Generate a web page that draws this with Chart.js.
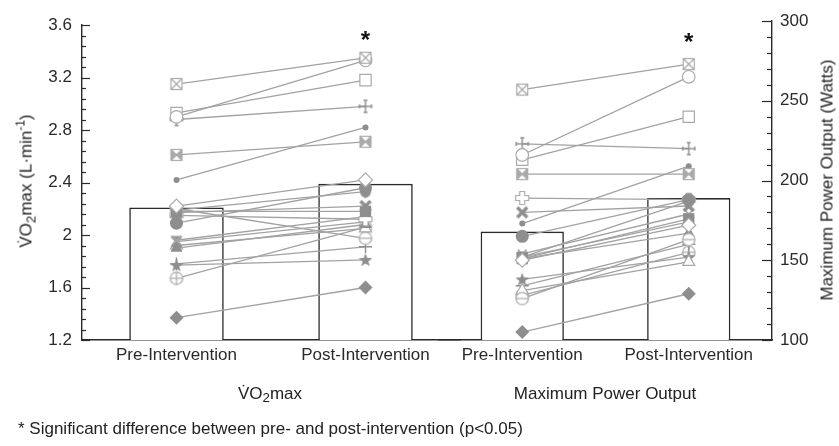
<!DOCTYPE html>
<html>
<head>
<meta charset="utf-8">
<script src="https://cdn.jsdelivr.net/npm/chart.js@4.4.1/dist/chart.umd.min.js"></script>
<style>
  body { margin: 0; background: #fff; }
  #wrap { position: relative; width: 839px; height: 446px; overflow: hidden;
          font-family: "Liberation Sans", Arial, sans-serif; color: #222; }
  canvas { position: absolute; top: 0; }
  #cLeft { left: 0; }
  #cRight { left: 420px; }
  .lbl { position: absolute; font-size: 17px; white-space: nowrap; line-height: 1; }
  .ctr { transform: translate(-50%, -50%); }
  .rot { transform: translate(-50%, -50%) rotate(-90deg); }
  sub { font-size: 0.78em; vertical-align: -0.3em; line-height: 0; }
  sup { font-size: 0.7em; vertical-align: 0.55em; line-height: 0; }
</style>
</head>
<body>
<div id="wrap">
  <canvas id="cLeft" width="470" height="446"></canvas>
  <canvas id="cRight" width="419" height="446"></canvas>
  <div class="lbl rot" style="left:26px; top:181px;">V&#775;O<sub>2</sub>max (L·min<sup>-1</sup>)</div>
  <div class="lbl rot" style="left:827px; top:180px;">Maximum Power Output (Watts)</div>
  <div class="lbl ctr" style="left:270px; top:393px;">V&#775;O<sub>2</sub>max</div>
  <div class="lbl ctr" style="left:605px; top:393px;">Maximum Power Output</div>
  <div class="lbl" style="left:18px; top:428px; transform: translateY(-50%);">* Significant difference between pre- and post-intervention (p&lt;0.05)</div>
</div>
<script>
// categories
var phases = ['Pre-Intervention', 'Post-Intervention'];

// group means (bars)
var vo2Mean   = [2.21, 2.39];
var powerMean = [168, 189];

// individual subjects, same order in every array
var vo2Pre    = [3.15, 2.90, 2.93, 2.88, 2.61, 2.42, 2.22, 2.09, 2.19, 2.17, 2.18,
                 2.20, 2.15, 1.96, 1.95, 1.90, 1.92, 1.77, 1.78, 1.67, 1.37];
var vo2Post   = [3.35, 3.33, 3.18, 2.98, 2.71, 2.82, 2.42, 2.36, 2.33, 2.22, 2.18,
                 1.975, 2.12, 2.14, 2.10, 2.08, 2.05, 1.81, 1.91, 2.06, 1.60];
var powerPre  = [257, 216, 213, 223, 204, 173, 150, 165, 152, 180, 151,
                 126, 189, 154, 152, 151, 131, 138, 134, 128, 105];
var powerPost = [273, 265, 240, 220, 204, 209, 172, 188, 187, 184, 176,
                 163, 188, 179, 174, 167, 149, 152, 160, 155, 129];

// axis ticks
var vo2Ticks   = { min: 1.2, max: 3.6, step: 0.4, minor: 0.08 };
var powerTicks = { min: 100, max: 300, step: 50, minor: 10 };

// styling
var LINE = '#a2a2a2', FILL = '#8e8e8e', OPEN = '#aaaaaa', INK = '#2a2a2a';
var markerKinds = ['crossedBox', 'openCircle', 'openSquare', 'dagger', 'hourglassBox',
  'smallDot', 'openDiamond', 'filledCircle', 'shield', 'filledX', 'filledSquare',
  'circleMinus', 'openPlus', 'crossRot', 'bowtie', 'filledTriangle', 'openTriangle',
  'star', 'thinPlus', 'circlePlus', 'filledDiamond'];

Chart.defaults.font.family = '"Liberation Sans", Arial, sans-serif';
Chart.defaults.font.size = 17;
Chart.defaults.color = INK;

var cache = {};
function markerCanvas(kind) {
  if (cache[kind]) return cache[kind];
  var c = document.createElement('canvas');
  c.width = c.height = 16;
  var g = c.getContext('2d');
  g.lineWidth = 1.2;
  g.strokeStyle = OPEN;
  g.fillStyle = FILL;
  function line(a, b, cc, d) { g.beginPath(); g.moveTo(a, b); g.lineTo(cc, d); g.stroke(); }
  if (kind === 'crossedBox' || kind === 'hourglassBox') {
    g.fillStyle = '#fff'; g.fillRect(2.5, 2.5, 11, 11);
    g.strokeRect(2.5, 2.5, 11, 11);
    if (kind === 'crossedBox') {
      line(2.5, 2.5, 13.5, 13.5); line(13.5, 2.5, 2.5, 13.5);
    } else {
      g.fillStyle = OPEN;
      g.beginPath(); g.moveTo(3, 3); g.lineTo(8, 8); g.lineTo(3, 13); g.closePath(); g.fill();
      g.beginPath(); g.moveTo(13, 3); g.lineTo(8, 8); g.lineTo(13, 13); g.closePath(); g.fill();
      line(2.5, 2.5, 13.5, 13.5); line(13.5, 2.5, 2.5, 13.5);
    }
  } else if (kind === 'dagger') {
    g.strokeStyle = FILL; g.lineWidth = 1.4;
    line(8, 1.5, 8, 14.5); line(1.5, 8, 14.5, 8);
    line(6, 2, 10, 2); line(6, 14, 10, 14); line(2, 6, 2, 10); line(14, 6, 14, 10);
  } else if (kind === 'star') {
    g.beginPath();
    for (var i = 0; i < 10; i++) {
      var r = i % 2 ? 3 : 7.2, a = -Math.PI / 2 + i * Math.PI / 5;
      g.lineTo(8 + r * Math.cos(a), 8.5 + r * Math.sin(a));
    }
    g.closePath(); g.fill();
  } else if (kind === 'openPlus') {
    var p = [[5.5,1.5],[10.5,1.5],[10.5,5.5],[14.5,5.5],[14.5,10.5],[10.5,10.5],
             [10.5,14.5],[5.5,14.5],[5.5,10.5],[1.5,10.5],[1.5,5.5],[5.5,5.5]];
    g.beginPath(); p.forEach(function (q) { g.lineTo(q[0], q[1]); }); g.closePath();
    g.fillStyle = '#fff'; g.fill(); g.stroke();
  } else if (kind === 'circleMinus' || kind === 'circlePlus') {
    g.beginPath(); g.arc(8, 8, 6.2, 0, Math.PI * 2);
    g.fillStyle = '#fff'; g.fill(); g.stroke();
    line(1.5, 8, 14.5, 8);
    if (kind === 'circlePlus') line(8, 1.5, 8, 14.5);
  } else if (kind === 'filledX') {
    g.strokeStyle = FILL; g.lineWidth = 3.4;
    line(3, 3, 13, 13); line(13, 3, 3, 13);
  } else if (kind === 'bowtie') {
    g.beginPath(); g.moveTo(2.5, 2.5); g.lineTo(13.5, 2.5); g.lineTo(8, 8); g.closePath(); g.fill();
    g.beginPath(); g.moveTo(2.5, 13.5); g.lineTo(13.5, 13.5); g.lineTo(8, 8); g.closePath(); g.fill();
    g.strokeStyle = FILL; g.lineWidth = 2;
    line(3, 3, 13, 13); line(13, 3, 3, 13);
  } else if (kind === 'shield') {
    g.beginPath(); g.moveTo(2.5, 3); g.lineTo(13.5, 3); g.lineTo(13.5, 8);
    g.quadraticCurveTo(13.5, 12.5, 8, 14.5); g.quadraticCurveTo(2.5, 12.5, 2.5, 8);
    g.closePath(); g.fill();
  }
  cache[kind] = c;
  return c;
}

function pointProps(kind) {
  var builtIn = {
    openCircle:     ['circle', 6.3, '#fff', OPEN, 1.2],
    openSquare:     ['rect', 8, '#fff', OPEN, 1.2],
    smallDot:       ['circle', 3, FILL, FILL, 0],
    filledCircle:   ['circle', 6.5, FILL, FILL, 0],
    filledSquare:   ['rect', 8, FILL, FILL, 0],
    filledTriangle: ['triangle', 7, FILL, FILL, 0],
    openTriangle:   ['triangle', 7, '#fff', OPEN, 1.2],
    openDiamond:    ['rectRot', 7, '#fff', OPEN, 1.2],
    filledDiamond:  ['rectRot', 7, FILL, FILL, 0],
    crossRot:       ['crossRot', 6, OPEN, OPEN, 1.6],
    thinPlus:       ['cross', 6.5, FILL, FILL, 1.4]
  }[kind];
  if (builtIn) {
    return { pointStyle: builtIn[0], pointRadius: builtIn[1], pointBackgroundColor: builtIn[2],
             pointBorderColor: builtIn[3], pointBorderWidth: builtIn[4] };
  }
  return { pointStyle: markerCanvas(kind), pointRadius: 8 };
}

// inward axis ticks and the significance asterisk
var extras = {
  id: 'extras',
  afterDraw: function (chart, args, o) {
    var ctx = chart.ctx, a = chart.chartArea, y = chart.scales.y, x = chart.scales.x;
    ctx.save();
    ctx.strokeStyle = INK; ctx.lineWidth = 1.2;
    var ax = o.side === 'left' ? a.left : a.right;
    var dir = o.side === 'left' ? 1 : -1;
    var n = Math.round((o.t.max - o.t.min) / o.t.minor);
    var per = Math.round(o.t.step / o.t.minor);
    for (var i = 0; i <= n; i++) {
      var py = Math.round(y.getPixelForValue(o.t.min + i * o.t.minor)) + 0.5;
      var len = i % per === 0 ? o.major : o.minorLen;
      ctx.beginPath(); ctx.moveTo(ax, py); ctx.lineTo(ax + dir * len, py); ctx.stroke();
    }
    ctx.fillStyle = '#111';
    ctx.font = 'bold 24px "Liberation Sans", Arial, sans-serif';
    ctx.textAlign = 'center'; ctx.textBaseline = 'middle';
    ctx.fillText('*', x.getPixelForValue(1), a.top + o.starDy);
    ctx.restore();
  }
};

function buildChart(id, means, pre, post, t, side, pad, axisW, tick) {
  var sets = [{
    type: 'bar', data: means, backgroundColor: '#fff', borderColor: INK, borderWidth: 1.6,
    barPercentage: 0.5, categoryPercentage: 1, order: 2
  }];
  for (var i = 0; i < pre.length; i++) {
    sets.push(Object.assign({
      type: 'line', data: [pre[i], post[i]], borderColor: LINE, borderWidth: 1.3,
      fill: false, order: 1, clip: false
    }, pointProps(markerKinds[i])));
  }
  return new Chart(document.getElementById(id), {
    type: 'bar',
    data: { labels: phases, datasets: sets },
    options: {
      responsive: false, animation: false, devicePixelRatio: 1,
      layout: { padding: pad },
      plugins: { legend: { display: false }, tooltip: { enabled: false }, extras: tick },
      scales: {
        x: {
          offset: true,
          grid: { display: false, drawTicks: false },
          border: { display: true, color: INK, width: 1.4 },
          ticks: { padding: 5, maxRotation: 0, autoSkip: false, color: INK },
          afterFit: function (s) { s.height = 106; }
        },
        y: {
          position: side, min: t.min, max: t.max,
          grid: { display: false, drawTicks: false },
          border: { display: true, color: INK, width: 1.4 },
          ticks: {
            stepSize: t.step, padding: side === 'left' ? 10 : 8, color: INK,
            callback: function (v) { return String(Math.round(v * 100) / 100); }
          },
          afterFit: function (s) { s.width = axisW; }
        }
      }
    },
    plugins: [extras]
  });
}

buildChart('cLeft', vo2Mean, vo2Pre, vo2Post, vo2Ticks, 'left',
  { top: 25, right: 10, left: 0, bottom: 0 }, 82,
  { side: 'left', t: vo2Ticks, major: 8, minorLen: 4, starDy: 16 });
buildChart('cRight', powerMean, powerPre, powerPost, powerTicks, 'right',
  { top: 21, right: 0, left: 19, bottom: 0 }, 67,
  { side: 'right', t: powerTicks, major: 10, minorLen: 5, starDy: 22 });
</script>
</body>
</html>
